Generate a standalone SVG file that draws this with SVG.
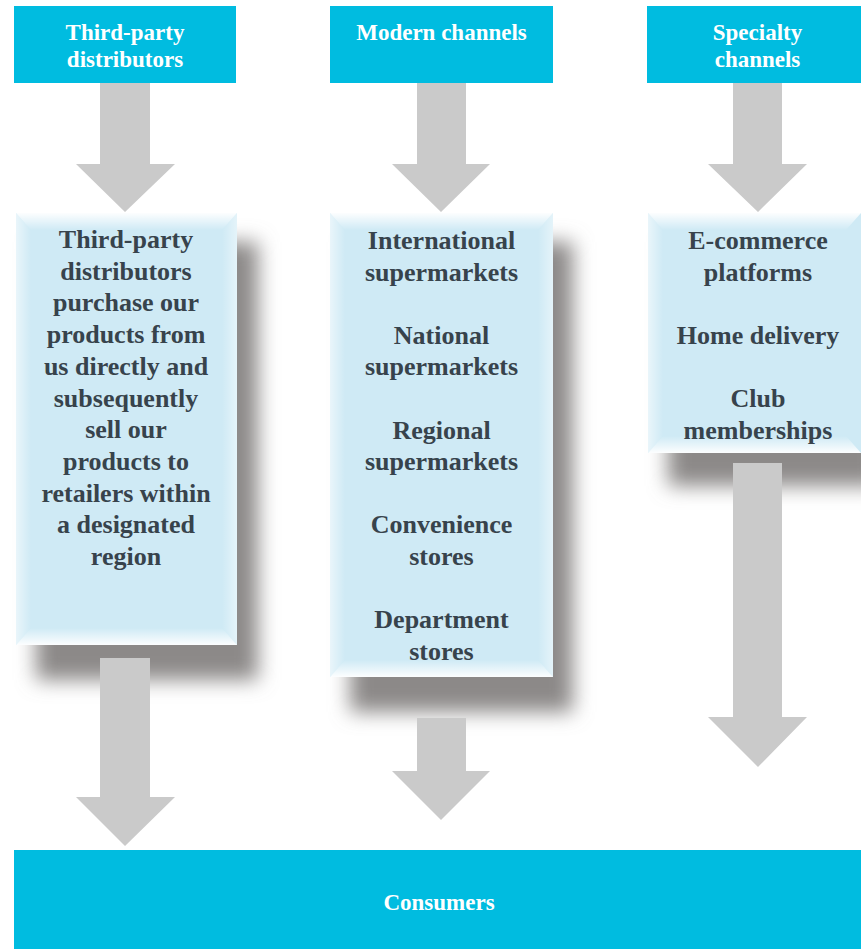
<svg xmlns="http://www.w3.org/2000/svg" width="861" height="949" viewBox="0 0 861 949">
<defs>
<style>
.hdr{fill:#00bce0}
.ht{font-family:"Liberation Serif","Times New Roman",serif;font-weight:bold;font-size:23px;fill:#ffffff;text-anchor:middle}
.pt{font-family:"Liberation Serif","Times New Roman",serif;font-weight:bold;font-size:26px;fill:#37434c;text-anchor:middle}
.arrow{fill:#cacaca}
.panel{fill:#cfeaf5}
.shadow{fill:#8c8988;filter:url(#blur)}
</style>
<filter id="blur" x="-30%" y="-30%" width="160%" height="160%">
<feGaussianBlur stdDeviation="10"/>
</filter>
<linearGradient id="gTop" x1="0" y1="0" x2="0" y2="1">
<stop offset="0" stop-color="#ffffff" stop-opacity="0.95"/>
<stop offset="1" stop-color="#ffffff" stop-opacity="0"/>
</linearGradient>
<linearGradient id="gBot" x1="0" y1="1" x2="0" y2="0">
<stop offset="0" stop-color="#ffffff" stop-opacity="0.95"/>
<stop offset="1" stop-color="#ffffff" stop-opacity="0"/>
</linearGradient>
<linearGradient id="gLeft" x1="0" y1="0" x2="1" y2="0">
<stop offset="0" stop-color="#ffffff" stop-opacity="0.55"/>
<stop offset="1" stop-color="#ffffff" stop-opacity="0"/>
</linearGradient>
<linearGradient id="gRight" x1="1" y1="0" x2="0" y2="0">
<stop offset="0" stop-color="#ffffff" stop-opacity="0.45"/>
<stop offset="1" stop-color="#ffffff" stop-opacity="0"/>
</linearGradient>
</defs>
<rect width="861" height="949" fill="#ffffff"/>

<!-- shadows -->
<g id="shadows">
<rect class="shadow" x="36" y="242" width="222" height="438"/>
<rect class="shadow" x="350" y="242" width="223" height="470"/>
<rect class="shadow" x="668" y="242" width="213" height="244"/>
</g>

<!-- header nodes -->
<g id="hdr-third">
<rect class="hdr" x="14" y="6" width="222" height="77"/>
<text class="ht" x="125" y="40">Third-party</text>
<text class="ht" x="125" y="66.5">distributors</text>
</g>
<g id="hdr-modern">
<rect class="hdr" x="330" y="6" width="223" height="77"/>
<text class="ht" x="441.5" y="40">Modern channels</text>
</g>
<g id="hdr-specialty">
<rect class="hdr" x="647" y="6" width="214" height="77"/>
<text class="ht" x="757.5" y="40">Specialty</text>
<text class="ht" x="757.5" y="66.5">channels</text>
</g>

<!-- panel nodes -->
<g id="panel-third">
<rect class="panel" x="16" y="213" width="221" height="432"/>
<polygon fill="url(#gTop)" points="16,213 237,213 222,230 31,230"/>
<polygon fill="url(#gBot)" points="16,645 237,645 222,628 31,628"/>
<polygon fill="url(#gLeft)" points="16,213 31,230 31,628 16,645"/>
<polygon fill="url(#gRight)" points="237,213 222,230 222,628 237,645"/>
<text class="pt" x="126" y="248">Third-party</text>
<text class="pt" x="126" y="279.7">distributors</text>
<text class="pt" x="126" y="311.4">purchase our</text>
<text class="pt" x="126" y="343.1">products from</text>
<text class="pt" x="126" y="374.8">us directly and</text>
<text class="pt" x="126" y="406.5">subsequently</text>
<text class="pt" x="126" y="438.2">sell our</text>
<text class="pt" x="126" y="469.9">products to</text>
<text class="pt" x="126" y="501.6">retailers within</text>
<text class="pt" x="126" y="533.3">a designated</text>
<text class="pt" x="126" y="565">region</text>
</g>
<g id="panel-modern">
<rect class="panel" x="330" y="213" width="223" height="464"/>
<polygon fill="url(#gTop)" points="330,213 553,213 538,230 345,230"/>
<polygon fill="url(#gBot)" points="330,677 553,677 538,660 345,660"/>
<polygon fill="url(#gLeft)" points="330,213 345,230 345,660 330,677"/>
<polygon fill="url(#gRight)" points="553,213 538,230 538,660 553,677"/>
<text class="pt" x="441.5" y="249">International</text>
<text class="pt" x="441.5" y="280.6">supermarkets</text>
<text class="pt" x="441.5" y="343.8">National</text>
<text class="pt" x="441.5" y="375.4">supermarkets</text>
<text class="pt" x="441.5" y="438.6">Regional</text>
<text class="pt" x="441.5" y="470.2">supermarkets</text>
<text class="pt" x="441.5" y="533.4">Convenience</text>
<text class="pt" x="441.5" y="565">stores</text>
<text class="pt" x="441.5" y="628.2">Department</text>
<text class="pt" x="441.5" y="659.8">stores</text>
</g>
<g id="panel-specialty">
<rect class="panel" x="648" y="213" width="213" height="240"/>
<polygon fill="url(#gTop)" points="648,213 861,213 846,230 663,230"/>
<polygon fill="url(#gBot)" points="648,453 861,453 846,436 663,436"/>
<polygon fill="url(#gLeft)" points="648,213 663,230 663,436 648,453"/>
<text class="pt" x="758" y="249">E-commerce</text>
<text class="pt" x="758" y="280.6">platforms</text>
<text class="pt" x="758" y="343.8">Home delivery</text>
<text class="pt" x="758" y="407">Club</text>
<text class="pt" x="758" y="438.6">memberships</text>
</g>

<!-- consumers node -->
<g id="consumers">
<rect class="hdr" x="14" y="850" width="847" height="99"/>
<text class="ht" x="439" y="910">Consumers</text>
</g>

<!-- connectors -->
<g id="connectors">
<polygon class="arrow" points="100,83 150,83 150,164 175,164 125,212 76,164 100,164"/>
<polygon class="arrow" points="417,83 466,83 466,164 490,164 441,212 392,164 417,164"/>
<polygon class="arrow" points="733,83 782,83 782,164 807,164 758,212 708,164 733,164"/>
<polygon class="arrow" points="100,658 150,658 150,797 175,797 125,846 76,797 100,797"/>
<polygon class="arrow" points="417,718 466,718 466,771 490,771 441,820 392,771 417,771"/>
<polygon class="arrow" points="733,463 782,463 782,717 807,717 758,767 708,717 733,717"/>
</g>
</svg>
